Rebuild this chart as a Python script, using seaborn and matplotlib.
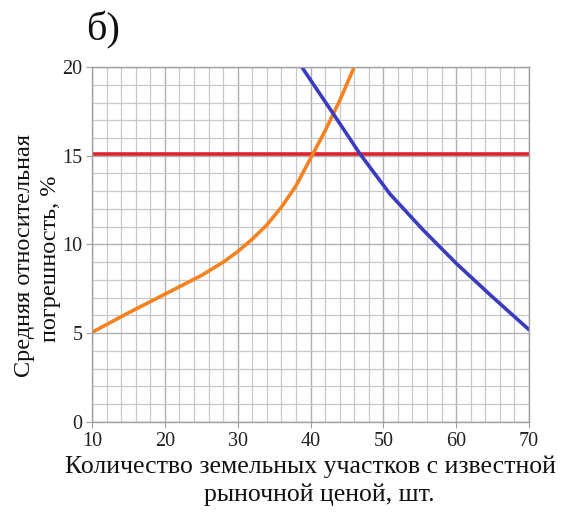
import numpy as np
import pandas as pd
import matplotlib
matplotlib.use("Agg")
import matplotlib.pyplot as plt
import seaborn as sns
from matplotlib.ticker import MultipleLocator

# Data
orange_x = [10, 15, 20, 25, 28, 30, 32, 34, 36, 38, 40, 42, 44, 45.9]
orange_y = [5.05, 6.15, 7.2, 8.25, 9.0, 9.6, 10.3, 11.1, 12.1, 13.3, 14.85, 16.4, 18.1, 19.9]
blue_x = [38.8, 43.15, 46.8, 50.9, 55.5, 60.1, 64.7, 70.0]
blue_y = [20.0, 17.35, 15.1, 12.85, 10.8, 8.9, 7.15, 5.2]
red_x = [10, 70]
red_y = [15.1, 15.1]

x_ticks = [10, 20, 30, 40, 50, 60, 70]
y_ticks = [0, 5, 10, 15, 20]

sns.set_theme(style="white")
plt.rcParams['font.family'] = ['Liberation Serif', 'DejaVu Serif']

fig = plt.figure(figsize=(5.62, 5.15), dpi=100)
ax = fig.add_axes([0.1637, 0.1806, 0.7776, 0.6893])

ax.xaxis.set_minor_locator(MultipleLocator(2))
ax.yaxis.set_minor_locator(MultipleLocator(1))
ax.grid(which="major", color="#b0b0b0", linewidth=1.0)
ax.grid(which="minor", color="#c8c8c8", linewidth=0.9)
ax.set_axisbelow(True)

df_o = pd.DataFrame({"x": orange_x, "y": orange_y})
df_b = pd.DataFrame({"x": blue_x, "y": blue_y})
df_r = pd.DataFrame({"x": red_x, "y": red_y})
kw = dict(linewidth=2.6, solid_joinstyle="round", solid_capstyle="round")
sns.lineplot(data=df_r, x="x", y="y", ax=ax, color="#e0202e", **kw)
sns.lineplot(data=df_o, x="x", y="y", ax=ax, color="#f58220", **kw)
sns.lineplot(data=df_b, x="x", y="y", ax=ax, color="#3b3bc0", **kw)

ax.set_xlim(10, 70)
ax.set_ylim(0, 20)
ax.set_xticks(x_ticks)
ax.set_yticks(y_ticks)
ax.set_xticklabels([str(v) for v in x_ticks])
ax.set_yticklabels([str(v) for v in y_ticks])
ax.tick_params(axis="both", which="major", labelsize=14.5, colors="#222222",
               length=4, width=0.8, color="#a0a0a0", pad=3, bottom=True, left=True)
ax.tick_params(axis="both", which="minor", length=0)
for s in ax.spines.values():
    s.set_color("#a0a0a0")
    s.set_linewidth(1.0)

ax.set_xlabel("")
ax.set_ylabel("")
fig.text(0.553, 0.093, "Количество земельных участков с известной",
         ha="center", va="center", fontsize=18.5, color="#111111")
fig.text(0.568, 0.040, "рыночной ценой, шт.",
         ha="center", va="center", fontsize=18.5, color="#111111")
fig.text(0.043, 0.503, "Средняя относительная", rotation=90,
         ha="center", va="center", fontsize=17.5, color="#111111")
fig.text(0.090, 0.497, "погрешность, %", rotation=90,
         ha="center", va="center", fontsize=17.5, color="#111111")
fig.text(0.183, 0.942, "б)", ha="center", va="center", fontsize=29, color="#111111")

fig.savefig("out.png", dpi=100)
